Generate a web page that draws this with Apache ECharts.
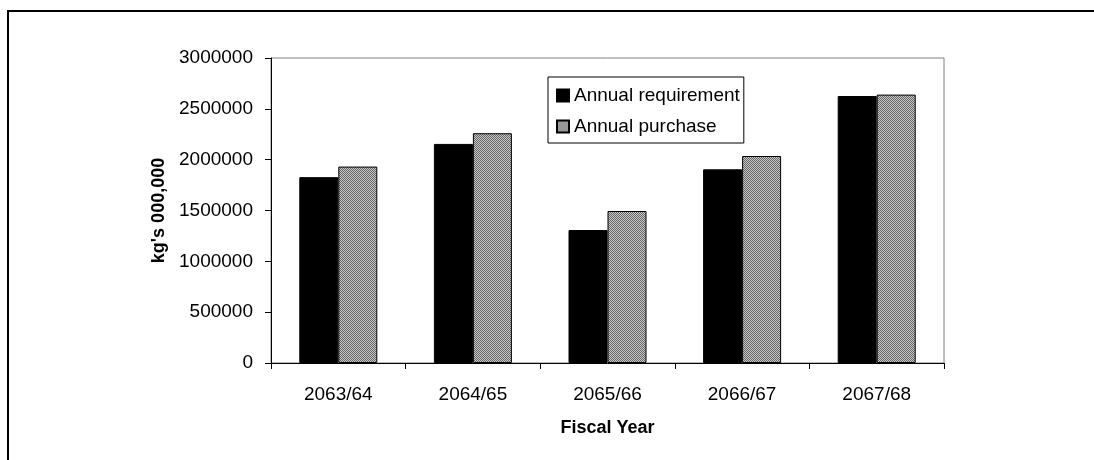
<!DOCTYPE html>
<html>
<head>
<meta charset="utf-8">
<script src="https://cdn.jsdelivr.net/npm/echarts@6/dist/echarts.min.js"></script>
<style>
  html, body { margin: 0; padding: 0; background: #ffffff; }
  #chart { width: 1094px; height: 460px; }
</style>
</head>
<body>
<div id="chart"></div>
<script>
// Fiscal years and tonnage figures
const fiscalYears = ['2063/64', '2064/65', '2065/66', '2066/67', '2067/68'];
const annualRequirement = [1828000, 2155000, 1308000, 1905000, 2626000];
const annualPurchase = [1932000, 2260000, 1495000, 2036000, 2640000];
const yTicks = { min: 0, max: 3000000, step: 500000 };

const FONT = '"Liberation Sans", Arial, sans-serif';

// Checkered grey fill for the purchase bars
function checkerPattern() {
  const c = document.createElement('canvas');
  c.width = 2; c.height = 2;
  const g = c.getContext('2d');
  g.fillStyle = '#c8c8c8'; g.fillRect(0, 0, 2, 2);
  g.fillStyle = '#666666'; g.fillRect(0, 0, 1, 1); g.fillRect(1, 1, 1, 1);
  return { image: c, repeat: 'repeat' };
}

const chart = echarts.init(document.getElementById('chart'), null, { renderer: 'canvas' });

chart.setOption({
  animation: false,
  backgroundColor: '#ffffff',
  graphic: [{
    type: 'rect',
    shape: { x: 8, y: 11, width: 1200, height: 1000 },
    style: { fill: 'none', stroke: '#000000', lineWidth: 2 },
    silent: true
  }],
  grid: {
    left: 271, right: 150, top: 58, bottom: 97,
    show: true, borderColor: '#808080', borderWidth: 1, backgroundColor: 'transparent'
  },
  legend: {
    orient: 'vertical',
    left: 548, top: 77,
    padding: [9, 4, 7, 8],
    itemGap: 12,
    itemWidth: 12, itemHeight: 12,
    borderColor: '#000000', borderWidth: 1,
    backgroundColor: '#ffffff',
    textStyle: { fontFamily: FONT, fontSize: 19, color: '#000000', lineHeight: 18 },
    data: [
      { name: 'Annual requirement', icon: 'rect' },
      { name: 'Annual purchase', icon: 'rect' }
    ]
  },
  xAxis: {
    type: 'category',
    data: fiscalYears,
    boundaryGap: true,
    name: 'Fiscal Year',
    nameLocation: 'middle',
    nameGap: 56,
    nameTextStyle: { fontFamily: FONT, fontSize: 18, fontWeight: 'bold', color: '#000000' },
    axisLine: { lineStyle: { color: '#000000', width: 1 } },
    axisTick: { show: true, length: 6, lineStyle: { color: '#000000' } },
    axisLabel: { fontFamily: FONT, fontSize: 19, color: '#000000', margin: 22 },
    splitLine: { show: false }
  },
  yAxis: {
    type: 'value',
    min: yTicks.min, max: yTicks.max, interval: yTicks.step,
    name: "kg's 000,000",
    nameLocation: 'middle',
    nameRotate: 90,
    nameGap: 102,
    nameTextStyle: { fontFamily: FONT, fontSize: 18, fontWeight: 'bold', color: '#000000' },
    axisLine: { show: true, lineStyle: { color: '#000000', width: 1 } },
    axisTick: { show: true, length: 6, lineStyle: { color: '#000000' } },
    axisLabel: {
      fontFamily: FONT, fontSize: 19, color: '#000000', margin: 18,
      formatter: function (v) { return String(v); }
    },
    splitLine: { show: false }
  },
  series: [
    {
      name: 'Annual requirement',
      type: 'bar',
      data: annualRequirement,
      barWidth: 39,
      barGap: '0%',
      itemStyle: { color: '#000000', borderColor: '#000000', borderWidth: 1 }
    },
    {
      name: 'Annual purchase',
      type: 'bar',
      data: annualPurchase,
      barWidth: 39,
      barGap: '0%',
      itemStyle: { color: checkerPattern(), borderColor: '#000000', borderWidth: 1 }
    }
  ]
});
</script>
</body>
</html>
